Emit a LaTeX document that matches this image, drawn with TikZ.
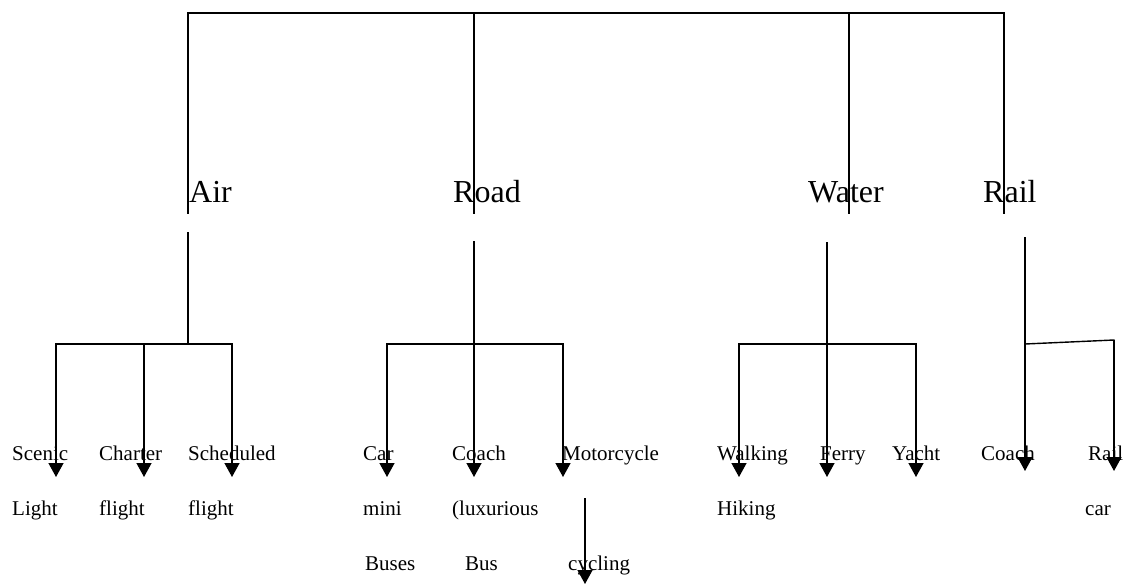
\documentclass[tikz,border=0pt]{standalone}
\usepackage{fontspec}
\setmainfont{Liberation Serif}
\usetikzlibrary{arrows.meta}
\begin{document}
\begin{tikzpicture}[x=1pt,y=-1pt,
  conn/.style={line width=1.4pt,line cap=rect},
  arr/.style={line width=1.4pt,-{Triangle[width=15pt,length=14pt]}},
  head/.style={inner sep=0pt,anchor=base west,font=\fontsize{32}{36}\selectfont},
  leaf/.style={inner sep=0pt,anchor=base west,font=\fontsize{21}{24}\selectfont}]
\useasboundingbox (0,0) rectangle (1135,584);
% header labels
\node[head] (air) at (189,202) {Air};
\node[head] (road) at (453,202) {Road};
\node[head] (water) at (808,202) {Water};
\node[head] (rail) at (983,202) {Rail};
% top tree coordinates
\coordinate (tA) at (188,13);
\coordinate (tR) at (474,13);
\coordinate (tW) at (849,13);
\coordinate (tL) at (1004,13);
\coordinate (bA) at (188,213);
\coordinate (bR) at (474,213);
\coordinate (bW) at (849,213);
\coordinate (bL) at (1004,213);
\draw[line width=1.8pt] (tA) -- (tL);
\draw[conn] (tA) -- (bA);
\draw[conn] (tR) -- (bR);
\draw[conn] (tW) -- (bW);
\draw[conn] (tL) -- (bL);
% leaf labels
\node[leaf] (scenic) at (12,460) {Scenic};
\node[leaf] (charter) at (99,460) {Charter};
\node[leaf] (sched) at (188,460) {Scheduled};
\node[leaf] (light) at (12,515) {Light};
\node[leaf] (flight1) at (99,515) {flight};
\node[leaf] (flight2) at (188,515) {flight};
\node[leaf] (car) at (363,460) {Car};
\node[leaf] (coach) at (452,460) {Coach};
\node[leaf] (moto) at (562,460) {Motorcycle};
\node[leaf] (mini) at (363,515) {mini};
\node[leaf] (lux) at (452,515) {(luxurious};
\node[leaf] (buses) at (365,570) {Buses};
\node[leaf] (bus) at (465,570) {Bus};
\node[leaf] (cyc) at (568,570) {cycling};
\node[leaf] (walk) at (717,460) {Walking};
\node[leaf] (ferry) at (820,460) {Ferry};
\node[leaf] (yacht) at (892,460) {Yacht};
\node[leaf] (hiking) at (717,515) {Hiking};
\node[leaf] (rcoach) at (981,460) {Coach};
\node[leaf] (rrail) at (1088,460) {Rail};
\node[leaf] (rcar) at (1085,515) {car};
% Air branch
\coordinate (aA) at (188,233);
\coordinate (jA) at (188,344);
\coordinate (a1) at (56,344);
\coordinate (a2) at (144,344);
\coordinate (a3) at (232,344);
\coordinate (e1) at (56,477);
\coordinate (e2) at (144,477);
\coordinate (e3) at (232,477);
\draw[conn] (aA) -- (jA);
\draw[conn] (a1) -- (a3);
\draw[arr] (a1) -- (e1);
\draw[arr] (a2) -- (e2);
\draw[arr] (a3) -- (e3);
% Road branch
\coordinate (aR) at (474,241);
\coordinate (r1) at (387,344);
\coordinate (r3) at (563,344);
\coordinate (f1) at (387,477);
\coordinate (f2) at (474,477);
\coordinate (f3) at (563,477);
\draw[conn] (r1) -- (r3);
\draw[arr] (aR) -- (f2);
\draw[arr] (r1) -- (f1);
\draw[arr] (r3) -- (f3);
\coordinate (m1) at (585,498);
\coordinate (m2) at (585,584);
\draw[arr] (m1) -- (m2);
% Water branch
\coordinate (aW) at (827,242);
\coordinate (w1) at (739,344);
\coordinate (w3) at (916,344);
\coordinate (g1) at (739,477);
\coordinate (g2) at (827,477);
\coordinate (g3) at (916,477);
\draw[conn] (w1) -- (w3);
\draw[arr] (aW) -- (g2);
\draw[arr] (w1) -- (g1);
\draw[arr] (w3) -- (g3);
% Rail branch
\coordinate (aL) at (1025,237);
\coordinate (l1) at (1025,344);
\coordinate (l2) at (1114,340);
\coordinate (h1) at (1025,471);
\coordinate (h2) at (1114,471);
\draw[conn] (l1) -- (l2);
\draw[arr] (aL) -- (h1);
\draw[arr] (l2) -- (h2);
\end{tikzpicture}
\end{document}
